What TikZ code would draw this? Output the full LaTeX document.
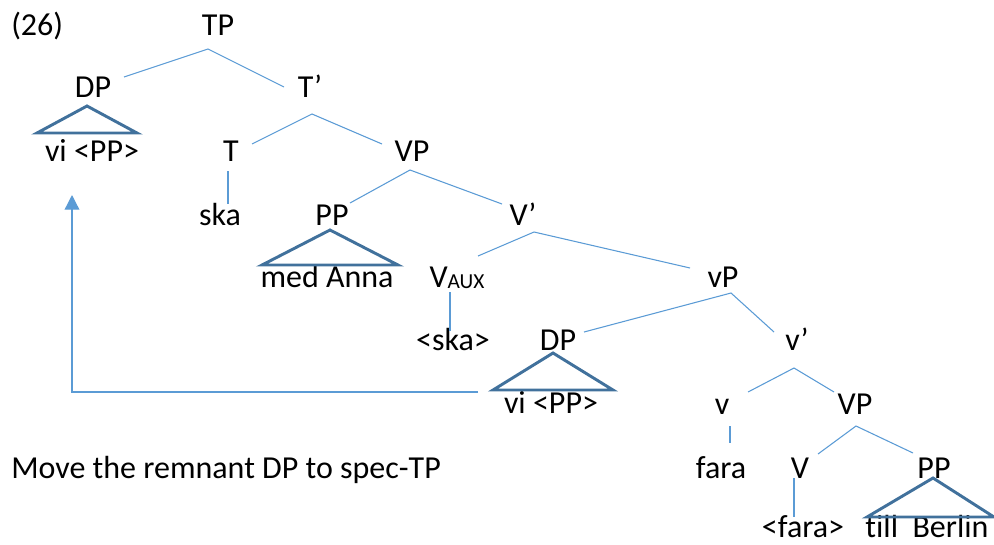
\documentclass[tikz,border=0pt]{standalone}
\usepackage{fontspec}
\setmainfont{Carlito}[Ligatures=NoCommon]
\usetikzlibrary{arrows.meta}
\definecolor{branchblue}{HTML}{5B9BD5}
\definecolor{triblue}{HTML}{41719C}
\begin{document}
\begin{tikzpicture}[x=0.75pt,y=-0.75pt,
  lbl/.style={anchor=base,inner sep=0pt,font=\fontsize{24pt}{28pt}\selectfont},
  branch/.style={draw=branchblue,line width=0.8pt},
  tri/.style={draw=triblue,line width=2.2pt,line join=miter},
  movearrow/.style={draw=branchblue,line width=1pt,-{Triangle[length=11pt,width=11pt]}}]
\useasboundingbox (0,0) rectangle (994,544);
% labels
\node[lbl,anchor=base west] (ex) at (11,35) {(26)};
\node[lbl] (TP) at (218,35) {TP};
\node[lbl] (DP1) at (93,97) {DP};
\node[lbl] (Tbar) at (310,97) {T’};
\node[lbl] (vi1) at (92,161) {vi <PP>};
\node[lbl] (T) at (231,161) {T};
\node[lbl] (VP1) at (412,161) {VP};
\node[lbl] (ska) at (220,225) {ska};
\node[lbl] (PP1) at (332,225) {PP};
\node[lbl] (Vbar) at (523,225) {V’};
\node[lbl] (med) at (327,287) {med Anna};
\node[lbl] (Vaux) at (457,287) {V\raisebox{-0.12ex}{\fontsize{16pt}{16pt}\selectfont AUX}};
\node[lbl] (vP) at (723,287) {vP};
\node[lbl] (skat) at (453,350) {<ska>};
\node[lbl] (DP2) at (558,350) {DP};
\node[lbl] (vbar) at (797,350) {v’};
\node[lbl] (vi2) at (551,413) {vi <PP>};
\node[lbl] (v) at (722,414) {v};
\node[lbl] (VP2) at (855,414) {VP};
\node[lbl,anchor=base west] (move) at (11,478) {Move the remnant DP to spec-TP};
\node[lbl] (fara) at (721,478) {fara};
\node[lbl] (V) at (800,478) {V};
\node[lbl] (PP2) at (934,478) {PP};
\node[lbl] (farat) at (803,537) {<fara>};
\node[lbl] (till) at (927,537) {till\hspace{0.45em}Berlin};
% branch points
\coordinate (aTP) at (208,49);
\coordinate (eDP1) at (124,77);
\coordinate (eTbar) at (284,87);
\coordinate (aTbar) at (312,114);
\coordinate (eT) at (252,144);
\coordinate (eVP1) at (382,144);
\coordinate (tT) at (228,171);
\coordinate (bT) at (228,204);
\coordinate (aVP1) at (410,170);
\coordinate (ePP1) at (350,203);
\coordinate (eVbar) at (502,204);
\coordinate (aVbar) at (534,232);
\coordinate (eVaux) at (478,256);
\coordinate (evP) at (690,268);
\coordinate (tVaux) at (450,292);
\coordinate (bVaux) at (450,331);
\coordinate (avP) at (731,293);
\coordinate (eDP2) at (584,332);
\coordinate (evbar) at (774,332);
\coordinate (avbar) at (794,368);
\coordinate (ev) at (748,392);
\coordinate (eVP2) at (834,392);
\coordinate (tv) at (730,426);
\coordinate (bv) at (730,443);
\coordinate (aVP2) at (856,426);
\coordinate (eV) at (818,454);
\coordinate (ePP2) at (913,453);
\coordinate (tV) at (794,478);
\coordinate (bV) at (794,517);
% branches
\draw[branch] (eDP1) -- (aTP) -- (eTbar);
\draw[branch] (eT) -- (aTbar) -- (eVP1);
\draw[branch] (tT) -- (bT);
\draw[branch] (ePP1) -- (aVP1) -- (eVbar);
\draw[branch] (eVaux) -- (aVbar) -- (evP);
\draw[branch] (tVaux) -- (bVaux);
\draw[branch] (eDP2) -- (avP) -- (evbar);
\draw[branch] (ev) -- (avbar) -- (eVP2);
\draw[branch] (tv) -- (bv);
\draw[branch] (eV) -- (aVP2) -- (ePP2);
\draw[branch] (tV) -- (bV);
% triangles
\draw[tri] (87,106) -- (137,133) -- (37,133) -- cycle;
\draw[tri] (330,230) -- (398,265) -- (262,265) -- cycle;
\draw[tri] (553,353) -- (613,390) -- (493,390) -- cycle;
\draw[tri] (933,478) -- (994,517) -- (867,517) -- cycle;
% movement arrow
\coordinate (mstart) at (478,392);
\coordinate (mcorner) at (72,392);
\coordinate (mend) at (72,195);
\draw[movearrow] (mstart) -- (mcorner) -- (mend);
\end{tikzpicture}
\end{document}
